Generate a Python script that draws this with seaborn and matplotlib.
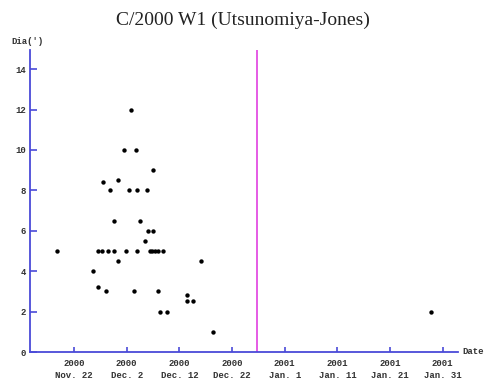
"""
Apparent coma diameter of comet C/2000 W1 (Utsunomiya-Jones) over time.
Saves out.png (485x383).
"""

import matplotlib

matplotlib.use("Agg")
import matplotlib.pyplot as plt
import pandas as pd
import seaborn as sns

# Observations: days after 2000 Nov 22.0 and coma diameter in arcmin
obs_day = [
    -3.3, 3.7, 4.5, 4.6, 5.4, 5.6, 6.0, 6.5, 6.8, 7.6,
    7.6, 8.4, 8.4, 9.4, 9.9, 10.5, 10.9, 11.4, 11.8, 12.0,
    12.0, 12.5, 13.5, 13.9, 14.1, 14.4, 14.9, 15.0, 15.0, 15.4,
    15.9, 15.9, 16.4, 16.9, 17.6, 21.4, 21.4, 22.5, 24.2, 26.3,
    67.7,
]
dia = [
    5.0, 4.0, 3.2, 5.0, 5.0, 8.4, 3.0, 5.0, 8.0, 6.5,
    5.0, 8.5, 4.5, 10.0, 5.0, 8.0, 12.0, 3.0, 10.0, 8.0,
    5.0, 6.5, 5.5, 8.0, 6.0, 5.0, 5.0, 9.0, 6.0, 5.0,
    5.0, 3.0, 2.0, 5.0, 2.0, 2.8, 2.5, 2.5, 4.5, 1.0,
    2.0,
]

# Perihelion marker (days after Nov 22.0)
perihelion_day = 34.7

# Axis ticks
x_ticks = [0, 10, 20, 30, 40, 50, 60, 70]
x_tick_labels = [
    "2000\nNov. 22", "2000\nDec. 2", "2000\nDec. 12", "2000\nDec. 22",
    "2001\nJan. 1", "2001\nJan. 11", "2001\nJan. 21", "2001\nJan. 31",
]
y_ticks = [0, 2, 4, 6, 8, 10, 12, 14]

AXIS_BLUE = "#4a4ad8"
MONO = "Liberation Mono"


def main():
    sns.set_style("white")
    df = pd.DataFrame({"day": obs_day, "dia": dia})

    fig = plt.figure(figsize=(4.85, 3.83), dpi=100)
    ax = fig.add_axes([30 / 485, 1 - 352 / 383, 428 / 485, 302 / 383])

    sns.scatterplot(
        data=df, x="day", y="dia", ax=ax,
        color="black", s=10, linewidth=0, marker="o",
    )
    ax.axvline(perihelion_day, color="#e040e0", linewidth=1.2)

    ax.set_xlim(-8.35, 72.9)
    ax.set_ylim(0, 14.95)
    ax.set_xlabel("")
    ax.set_ylabel("")

    for side in ("top", "right"):
        ax.spines[side].set_visible(False)
    for side in ("left", "bottom"):
        ax.spines[side].set_color(AXIS_BLUE)
        ax.spines[side].set_linewidth(1.3)

    ax.set_xticks(x_ticks)
    ax.set_xticklabels(x_tick_labels, fontfamily=MONO, fontsize=6.5,
                       fontweight="bold", color="#333333", linespacing=1.5)
    ax.set_yticks(y_ticks)
    ax.set_yticklabels([str(v) for v in y_ticks], fontfamily=MONO,
                       fontsize=6.5, fontweight="bold", color="#333333")
    ax.tick_params(axis="x", direction="in", length=3.5, width=1.2,
                   color=AXIS_BLUE, pad=5, bottom=True)
    ax.tick_params(axis="y", direction="in", length=5, width=1.2,
                   color=AXIS_BLUE, pad=3, left=True)

    fig.text(28 / 485, 1 - 41 / 383, "Dia(')", fontfamily=MONO, fontsize=6.5,
             fontweight="bold", ha="center", va="center", color="#333333")
    fig.text(462 / 485, 1 - 352 / 383, "Date", fontfamily=MONO, fontsize=6.5,
             fontweight="bold", ha="left", va="center", color="#333333")
    fig.text(0.5, 1 - 20 / 383, "C/2000 W1 (Utsunomiya-Jones)",
             fontfamily="Liberation Serif", fontsize=14, ha="center",
             va="center", color="#222222")

    fig.savefig("out.png", dpi=100)
    plt.close(fig)


if __name__ == "__main__":
    main()
